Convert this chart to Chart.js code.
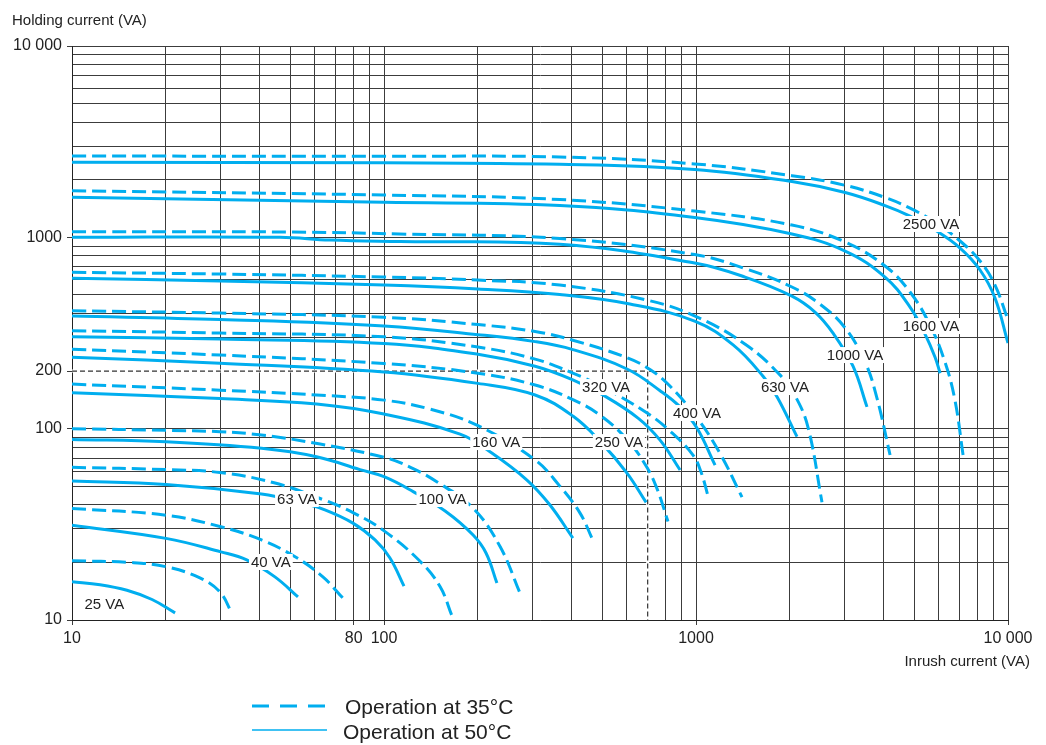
<!DOCTYPE html>
<html lang="en">
<head>
<meta charset="UTF-8">
<title>Holding current vs inrush current</title>
<script src="https://cdn.jsdelivr.net/npm/chart.js@4.4.0/dist/chart.umd.min.js"></script>
<style>
    body { margin: 0; background: #fff; font-family: 'Liberation Sans', Arial, sans-serif; color: #222; }
    #wrap { position: relative; width: 1046px; height: 745px; }
    #myChart { position: absolute; left: 0; top: 0; }
    .txt { position: absolute; white-space: nowrap; line-height: 1; }
</style>
</head>
<body>
<div id="wrap">
    <canvas id="myChart" width="1046" height="745"></canvas>
    <div class="txt" style="left:12px; top:12px; font-size:15px;">Holding current (VA)</div>
    <div class="txt" style="right:16px; top:653px; font-size:15px;">Inrush current (VA)</div>
    <svg style="position:absolute; left:250px; top:695px;" width="80" height="45">
        <line x1="2" y1="11" x2="77" y2="11" stroke="#00AEEF" stroke-width="3" stroke-dasharray="17 11"/>
        <line x1="2" y1="35" x2="77" y2="35" stroke="#00AEEF" stroke-width="1.5"/>
    </svg>
    <div class="txt" style="left:345px; top:696px; font-size:21px;">Operation at 35°C</div>
    <div class="txt" style="left:343px; top:721px; font-size:21px;">Operation at 50°C</div>
</div>
<script>
    // grid and tick labels
    const gridValues = [10, 20, 30, 40, 50, 60, 70, 80, 90,
        100, 200, 300, 400, 500, 600, 700, 800, 900,
        1000, 2000, 3000, 4000, 5000, 6000, 7000, 8000, 9000, 10000];
    const xTickValues = [10, 80, 100, 1000, 10000];
    const xTickText = ['10', '80', '100', '1000', '10 000'];
    const yTickValues = [10, 100, 200, 1000, 10000];
    const yTickText = ['10', '100', '200', '1000', '10 000'];

    // curves: [inrush VA, holding VA], 35°C dashed / 50°C solid
    const va25_35 = [[10, 20.4], [15.3, 20], [20, 19], [25.7, 16.6], [29.8, 14], [32.5, 10.9]];
    const va25_50 = [[10, 15.85], [12.3, 15.3], [15, 14.3], [18.05, 12.8], [21.4, 10.9]];
    const va40_35 = [[10, 38.3], [20, 35.3], [30, 30.7], [40.5, 26.2], [51.9, 21.4], [63.7, 16.8], [73.9, 13]];
    const va40_50 = [[10, 31.3], [20, 26.7], [30, 22.7], [36.3, 20.6], [44.7, 16.8], [53, 13.2]];
    const va63_35 = [[10, 62.8], [20, 61.1], [29.8, 59], [44.1, 52.3], [63.7, 42.6], [79.5, 36.4], [99.3, 29.5], [130, 20.4], [151.2, 14.95], [165.2, 10.5]];
    const va63_50 = [[10, 53.2], [20, 51], [40.5, 45.5], [53.8, 41.3], [63.7, 38], [79.5, 32.1], [93.6, 26.2], [104.5, 21.1], [115.9, 15.04]];
    const va100_35 = [[10, 100], [20, 98], [29.8, 96.4], [40.5, 92.6], [62.4, 83.1], [100, 70.8], [121.1, 63], [147.6, 52.8], [193.3, 38.3], [235.5, 24.2], [273, 13.8]];
    const va100_50 = [[10, 87.9], [20, 85.4], [40.5, 78.9], [60.8, 71.3], [83.7, 61.1], [100, 56.1], [124, 46.9], [157, 37.1], [193, 27.8], [212.3, 22.4], [230.1, 15.6]];
    const va160_35 = [[10, 171], [29.8, 159], [60.8, 150], [100, 141], [140.4, 126.6], [200, 103.7], [305, 68.6], [366, 50.1], [425, 36.2], [464, 26.8]];
    const va160_50 = [[10, 154], [29.8, 143.7], [60.8, 134.5], [100, 119.2], [175.3, 93.7], [218.7, 75.7], [287.2, 53.9], [340.4, 39.9], [403, 26.8]];
    const va250_35 = [[10, 260], [29.8, 242.5], [100, 219], [200, 195], [305, 169], [403, 142], [492, 117.8], [601, 87.9], [692, 63.8], [750, 48.6], [813, 32.7]];
    const va250_50 = [[10, 236], [29.8, 220], [100, 198], [200, 172.5], [305, 150], [403, 116.4], [492, 86.1], [601, 58.6], [692, 41.2]];
    const va320_35 = [[10, 325], [29.8, 316], [100, 302], [200, 267], [305, 231], [403, 195], [503, 165], [697, 120.6], [825, 97.2], [978, 72.8], [1038, 59.3], [1093, 44.4]];
    const va320_50 = [[10, 302], [29.8, 294], [100, 279], [200, 245], [305, 212], [403, 180], [503, 150], [652, 113.6], [767, 87.1], [889, 60.8]];
    const va400_35 = [[10, 413], [29.8, 402], [100, 382], [200, 350], [305, 322], [403, 290], [601, 235], [712, 204], [825, 167], [1007, 114], [1194, 74.2], [1404, 43.9]];
    const va400_50 = [[10, 388], [29.8, 372], [100, 344], [200, 310], [305, 285], [403, 259], [601, 205], [767, 158], [889, 130], [1007, 100.7], [1151, 64.5]];
    const va630_35 = [[10, 656], [29.8, 643], [100, 620], [200, 598], [366, 563], [712, 466], [1030, 377], [1457, 272], [1858, 191], [2076, 149], [2286, 101.6], [2534, 41.3]];
    const va630_50 = [[10, 611], [29.8, 591], [100, 563], [200, 537], [366, 502], [614, 448], [990, 365], [1315, 274], [1640, 188], [1818, 147], [2107, 90.8]];
    const va1000_35 = [[10, 1070], [51, 1066], [112, 1041], [366, 986], [990, 813], [1436, 687], [2030, 550], [2495, 448], [3006, 336], [3483, 223], [3802, 144.5], [4188, 72.8]];
    const va1000_50 = [[10, 1000], [46.4, 1000], [67.1, 967], [112.5, 950], [366, 920], [990, 734], [1436, 620], [2030, 493], [2406, 407], [2749, 316], [3186, 212], [3532, 130]];
    const va1600_35 = [[10, 1752], [100, 1664], [366, 1576], [990, 1372], [2030, 1160], [3006, 945], [4035, 708], [4853, 518], [5623, 348], [6281, 223], [6761, 141], [7178, 72.8]];
    const va1600_50 = [[10, 1619], [100, 1524], [366, 1466], [990, 1269], [2030, 1041], [3006, 848], [4035, 620], [4853, 432], [5420, 312], [5834, 237], [6059, 195]];
    const va2500_35 = [[10, 2660], [100, 2650], [366, 2630], [990, 2420], [2030, 2100], [3006, 1870], [4035, 1615], [4853, 1420], [5834, 1200], [7021, 957], [8135, 752], [9085, 563], [10000, 370]];
    const va2500_50 = [[10, 2466], [100, 2451], [366, 2407], [990, 2262], [2030, 1957], [3006, 1715], [4035, 1466], [4853, 1292], [5834, 1092], [7021, 879], [8135, 675], [9085, 482], [10000, 280]];

    const curves35 = [va25_35, va40_35, va63_35, va100_35, va160_35, va250_35, va320_35, va400_35, va630_35, va1000_35, va1600_35, va2500_35];
    const curves50 = [va25_50, va40_50, va63_50, va100_50, va160_50, va250_50, va320_50, va400_50, va630_50, va1000_50, va1600_50, va2500_50];

    // example reading: 700 VA inrush -> 200 VA holding
    const example = [[10, 200], [700, 200], [700, 10]];

    // curve labels
    const labelText = ['25 VA', '40 VA', '63 VA', '100 VA', '160 VA', '250 VA', '320 VA', '400 VA', '630 VA', '1000 VA', '1600 VA', '2500 VA'];
    const labelX = [12.7, 43.4, 52.6, 154, 229, 566, 515, 1007, 1928, 3234, 5665, 5665];
    const labelY = [12.1, 20.1, 42.9, 42.9, 85.1, 85.1, 165, 120.7, 165, 242.5, 343.8, 1174];

    const blue = '#00AEEF';
    const gridColor = '#3c3c3c';
    const toPoints = arr => arr.map(p => ({x: p[0], y: p[1]}));

    const datasets = [];
    curves35.forEach((c, i) => {
        datasets.push({data: toPoints(c), borderColor: blue, borderWidth: 3, borderDash: [14, 6],
            pointRadius: 0, tension: 0.4, order: 0});
        datasets.push({data: toPoints(curves50[i]), borderColor: blue, borderWidth: 3,
            pointRadius: 0, tension: 0.4, order: 0});
    });
    datasets.push({data: toPoints(example), borderColor: '#333', borderWidth: 1.2, borderDash: [5, 3],
        pointRadius: 0, tension: 0, order: 1});
    datasets.push({data: toPoints(example), borderColor: '#fff', borderWidth: 3,
        pointRadius: 0, tension: 0, order: 2});

    const curveLabels = {
        id: 'curveLabels',
        afterDatasetsDraw(chart) {
            const {ctx, scales: {x, y}} = chart;
            ctx.save();
            ctx.font = "15px 'Liberation Sans', Arial, sans-serif";
            ctx.textAlign = 'center';
            ctx.textBaseline = 'middle';
            labelText.forEach((t, i) => {
                const px = x.getPixelForValue(labelX[i]);
                const py = y.getPixelForValue(labelY[i]);
                const w = ctx.measureText(t).width;
                ctx.fillStyle = '#fff';
                ctx.fillRect(px - w / 2 - 2, py - 8, w + 4, 16);
                ctx.fillStyle = '#222';
                ctx.fillText(t, px, py + 1);
            });
            ctx.restore();
        }
    };

    Chart.defaults.font.family = "'Liberation Sans', Arial, sans-serif";

    const ctx = document.getElementById('myChart').getContext('2d');
    const myChart = new Chart(ctx, {
        type: 'line',
        data: {datasets: datasets},
        options: {
            responsive: false,
            animation: false,
            devicePixelRatio: 1,
            layout: {padding: {top: 46, right: 38, bottom: 95, left: 0}},
            plugins: {legend: {display: false}, tooltip: {enabled: false}},
            scales: {
                x: {
                    type: 'logarithmic', min: 10, max: 10000,
                    afterBuildTicks: s => { s.ticks = gridValues.map(v => ({value: v})); },
                    afterFit: s => { s.height = 30; },
                    ticks: {
                        autoSkip: false, maxRotation: 0, padding: 4, color: '#222', font: {size: 16},
                        callback: v => { const i = xTickValues.indexOf(v); return i < 0 ? '' : xTickText[i]; }
                    },
                    grid: {
                        color: gridColor, lineWidth: 1, tickLength: 5,
                        tickColor: c => (c.tick && xTickValues.includes(c.tick.value)) ? gridColor : 'rgba(0,0,0,0)'
                    },
                    border: {color: '#222', width: 1}
                },
                y: {
                    type: 'logarithmic', min: 10, max: 10000,
                    afterBuildTicks: s => { s.ticks = gridValues.map(v => ({value: v})); },
                    afterFit: s => { s.width = 72; },
                    ticks: {
                        autoSkip: false, padding: 5, color: '#222', font: {size: 16},
                        callback: v => { const i = yTickValues.indexOf(v); return i < 0 ? '' : yTickText[i]; }
                    },
                    grid: {
                        color: gridColor, lineWidth: 1, tickLength: 5,
                        tickColor: c => (c.tick && yTickValues.includes(c.tick.value)) ? gridColor : 'rgba(0,0,0,0)'
                    },
                    border: {color: '#222', width: 1}
                }
            }
        },
        plugins: [curveLabels]
    });
</script>
</body>
</html>
